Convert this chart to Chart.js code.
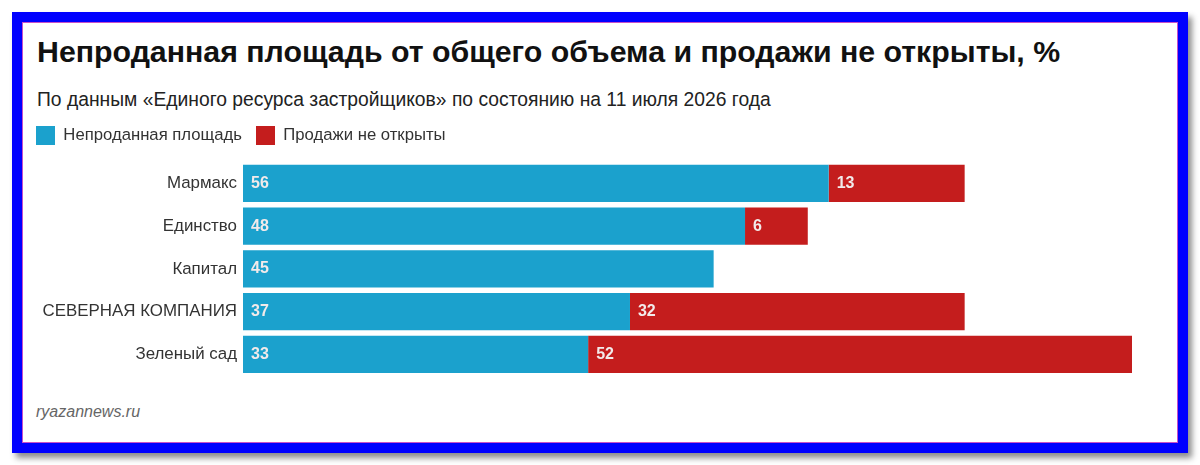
<!DOCTYPE html>
<html><head><meta charset="utf-8">
<script src="https://cdn.jsdelivr.net/npm/chart.js@4"></script>
<style>
html,body{margin:0;padding:0;background:#fff;width:1200px;height:465px;overflow:hidden;}
#frame{position:absolute;left:12px;top:12px;width:1156px;height:421px;border:10px solid #0000ff;box-shadow:4px 5px 6px rgba(0,0,0,0.45);background:#fff;}
#inner{position:absolute;left:0;top:0;right:0;bottom:0;border:1px solid #c850c8;}
#title{position:absolute;left:37px;top:35px;font:bold 30.3px "Liberation Sans",Arial,sans-serif;color:#111;white-space:nowrap;}
#sub{position:absolute;left:37px;top:89px;font:19.3px "Liberation Sans",Arial,sans-serif;color:#222;white-space:nowrap;}
#src{position:absolute;left:36px;top:403px;font:italic 16px "Liberation Sans",Arial,sans-serif;color:#666;white-space:nowrap;}
#wrap{position:absolute;left:22px;top:112px;width:1154px;height:280px;}
</style></head>
<body>
<div id="frame"><div id="inner"></div></div>
<div id="title">Непроданная площадь от общего объема и продажи не открыты, %</div>
<div id="sub">По данным «Единого ресурса застройщиков» по состоянию на 11 июля 2026 года</div>
<div id="src">ryazannews.ru</div>
<div id="wrap"><canvas id="c"></canvas></div>
<script>
const categories = ["Мармакс", "Единство", "Капитал", "СЕВЕРНАЯ КОМПАНИЯ", "Зеленый сад"];
const seriesNames = ["Непроданная площадь", "Продажи не открыты"];
const unsold = [56, 48, 45, 37, 33];
const notOpened = [13, 6, 0, 32, 52];
const colors = ["#1ba1cd", "#c41d1d"];

const FONT = '"Liberation Sans", Arial, sans-serif';

const legendSpace = {
  id: 'legendSpace',
  beforeInit(chart) {
    const orig = chart.legend.fit;
    chart.legend.fit = function () { orig.call(this); this.height += 7; };
  }
};

const labelPlugin = {
  id: 'barLabels',
  afterDatasetsDraw(chart) {
    const ctx = chart.ctx;
    ctx.save();
    ctx.font = 'bold 16px ' + FONT;
    ctx.fillStyle = '#f2eaea';
    ctx.textAlign = 'left';
    ctx.textBaseline = 'middle';
    chart.data.datasets.forEach((ds, i) => {
      chart.getDatasetMeta(i).data.forEach((el, j) => {
        const v = ds.data[j];
        if (!v) return;
        const left = Math.min(el.x, el.base);
        ctx.fillText(String(v), left + 8, el.y);
      });
    });
    ctx.restore();
  }
};

new Chart(document.getElementById('c'), {
  type: 'bar',
  data: {
    labels: categories,
    datasets: [
      { label: seriesNames[0], data: unsold, backgroundColor: colors[0], categoryPercentage: 0.87, barPercentage: 1 },
      { label: seriesNames[1], data: notOpened, backgroundColor: colors[1], categoryPercentage: 0.87, barPercentage: 1 }
    ]
  },
  options: {
    indexAxis: 'y',
    responsive: true,
    maintainAspectRatio: false,
    animation: false,
    layout: { padding: { left: 0, right: 44, top: 0, bottom: 11 } },
    plugins: {
      legend: {
        position: 'top',
        align: 'start',
        labels: { boxWidth: 19, boxHeight: 19, padding: 14, color: '#333', font: { family: FONT, size: 16.7 } }
      },
      tooltip: { enabled: false },
      title: { display: false }
    },
    scales: {
      x: { stacked: true, display: false, min: 0, max: 85 },
      y: {
        stacked: true,
        grid: { display: false, drawTicks: false },
        border: { display: false },
        ticks: { color: '#333', padding: 6, font: { family: FONT, size: 16.9 } },
        afterFit(scale) { scale.width = 221; }
      }
    }
  },
  plugins: [legendSpace, labelPlugin]
});
</script>
</body></html>
